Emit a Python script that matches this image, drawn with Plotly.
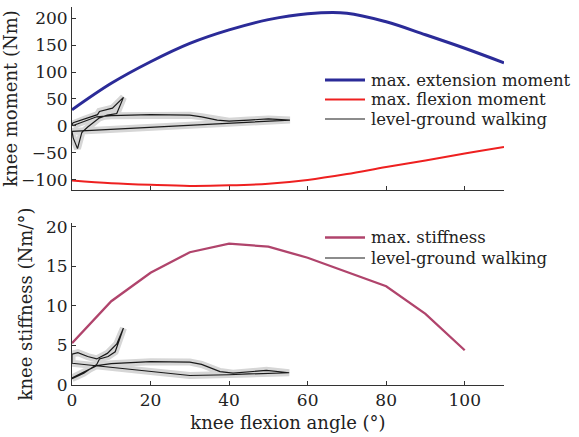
import plotly.graph_objects as go

# ---------------- data ----------------
ext_angle = [0, 10, 20, 30, 40, 50, 60, 70, 80, 90, 100, 110]
ext_moment = [30, 79, 119, 153, 178, 197, 208, 209, 193, 169, 144, 117]

flex_angle = [0, 10, 20, 30, 40, 50, 60, 70, 80, 90, 100, 110]
flex_moment = [-101, -106, -109, -111, -110, -107, -100, -89, -76, -64, -51, -39]

walk_m_angle = [0.3, 3, 6.3, 10, 20, 30, 33, 37, 40, 45, 50, 55.5,
                0, 0.3, 1.4, 2.5, 4, 7, 9, 11.4, 13.1, 10.3, 7, 6.5, 3, 0.3, 0, 0.3]
walk_m = [1, 8, 17, 19, 21, 20, 17, 11, 9, 11, 13, 11,
          -10, -22, -42, -12, -2, 15, 20, 23, 53, 33, 27, 21, 12, 6, 3, 1]

stiff_angle = [0, 10, 20, 30, 40, 50, 60, 70, 80, 90, 100]
stiff = [5.3, 10.6, 14.2, 16.8, 17.9, 17.5, 16.1, 14.3, 12.5, 9.0, 4.4]

walk_k_angle = [0, 3, 6.3, 10, 20, 30, 33, 37.7, 41, 49.5, 55.3, 45, 40, 30, 20, 10, 0,
                0, 1.5, 4, 6.3, 9, 11.4, 13.1, 11, 9.2, 7, 6.3, 3, 0]
walk_k = [0.9, 1.65, 2.45, 2.7, 2.95, 2.9, 2.6, 1.7, 1.5, 1.85, 1.55, 1.4, 1.3, 1.2, 1.7, 2.25, 2.75,
          3.9, 4.1, 3.6, 3.3, 4.0, 5.2, 7.2, 4.2, 3.6, 3.3, 2.6, 1.5, 0.8]

x_ticks = [0, 20, 40, 60, 80, 100]
m_ticks = [-100, -50, 0, 50, 100, 150, 200]
k_ticks = [0, 5, 10, 15, 20]

legend_top = ["max. extension moment", "max. flexion moment", "level-ground walking"]
legend_bot = ["max. stiffness", "level-ground walking"]

# ---------------- style ----------------
FONT = "DejaVu Serif"
BLUE = "#2b2b98"
RED = "#ee2020"
PINK = "#b0446c"
BLACK = "#1a1a1a"
BAND = "#d6d6d6"
AX = "#333333"
TXT = "#222222"

fig = go.Figure()

# top panel
fig.add_trace(go.Scatter(x=ext_angle, y=ext_moment, mode="lines", line=dict(color=BLUE, width=3, shape="spline"),
                         xaxis="x", yaxis="y", showlegend=False, name=legend_top[0]))
fig.add_trace(go.Scatter(x=flex_angle, y=flex_moment, mode="lines", line=dict(color=RED, width=2, shape="spline"),
                         xaxis="x", yaxis="y", showlegend=False, name=legend_top[1]))
fig.add_trace(go.Scatter(x=walk_m_angle, y=walk_m, mode="lines", line=dict(color=BAND, width=7),
                         xaxis="x", yaxis="y", showlegend=False, hoverinfo="skip"))
fig.add_trace(go.Scatter(x=walk_m_angle, y=walk_m, mode="lines", line=dict(color=BLACK, width=1.2),
                         xaxis="x", yaxis="y", showlegend=False, name=legend_top[2]))

# bottom panel
fig.add_trace(go.Scatter(x=stiff_angle, y=stiff, mode="lines", line=dict(color=PINK, width=2.3),
                         xaxis="x2", yaxis="y2", showlegend=False, name=legend_bot[0]))
fig.add_trace(go.Scatter(x=walk_k_angle, y=walk_k, mode="lines", line=dict(color=BAND, width=7),
                         xaxis="x2", yaxis="y2", showlegend=False, hoverinfo="skip"))
fig.add_trace(go.Scatter(x=walk_k_angle, y=walk_k, mode="lines", line=dict(color=BLACK, width=1.2),
                         xaxis="x2", yaxis="y2", showlegend=False, name=legend_bot[1]))

axis_common = dict(showline=True, linecolor=AX, linewidth=1, ticks="inside", ticklen=4,
                   tickcolor=AX, showgrid=False, zeroline=False, automargin=False,
                   tickfont=dict(family=FONT, size=17, color=TXT))

fig.update_layout(
    width=579, height=437,
    margin=dict(l=72, r=75, t=7, b=52, autoexpand=False),
    paper_bgcolor="white", plot_bgcolor="white",
    font=dict(family=FONT, size=17, color=TXT),
    xaxis=dict(domain=[0, 1], range=[0, 110], tickvals=x_ticks, showticklabels=False,
               anchor="y", **axis_common),
    yaxis=dict(domain=[0.516, 1.0], range=[-118.5, 220.4], tickvals=m_ticks, anchor="x",
               title=dict(text="knee moment (Nm)", font=dict(family=FONT, size=18), standoff=8),
               **axis_common),
    xaxis2=dict(domain=[0, 1], range=[0, 110], tickvals=x_ticks, anchor="y2",
                title=dict(text="knee flexion angle (°)", font=dict(family=FONT, size=18), standoff=6),
                **axis_common),
    yaxis2=dict(domain=[0, 0.4286], range=[0, 20.5], tickvals=k_ticks, anchor="x2",
                title=dict(text="knee stiffness (Nm/°)", font=dict(family=FONT, size=18), standoff=8),
                **axis_common),
)

# manual legends (sample lines + text) in paper coordinates
def px_x(p):
    return (p - 72) / 432.0

def px_y(p):
    return (385 - p) / 378.0

LEG_FONT = 16.5
top_rows = [80, 99.5, 119]
top_styles = [(BLUE, 3), (RED, 2), (BLACK, 1.2)]
for label, row, (c, w) in zip(legend_top, top_rows, top_styles):
    fig.add_shape(type="line", xref="paper", yref="paper", x0=px_x(325), x1=px_x(365),
                  y0=px_y(row), y1=px_y(row), line=dict(color=c, width=w))
    fig.add_annotation(xref="paper", yref="paper", x=px_x(370), y=px_y(row), text=label,
                       showarrow=False, xanchor="left", yanchor="middle", borderpad=0,
                       font=dict(family=FONT, size=LEG_FONT, color=TXT))

bot_rows = [237.5, 258]
bot_styles = [(PINK, 2.3), (BLACK, 1.2)]
for label, row, (c, w) in zip(legend_bot, bot_rows, bot_styles):
    fig.add_shape(type="line", xref="paper", yref="paper", x0=px_x(325), x1=px_x(365),
                  y0=px_y(row), y1=px_y(row), line=dict(color=c, width=w))
    fig.add_annotation(xref="paper", yref="paper", x=px_x(370), y=px_y(row), text=label,
                       showarrow=False, xanchor="left", yanchor="middle", borderpad=0,
                       font=dict(family=FONT, size=LEG_FONT, color=TXT))

fig.write_html("out.html")
